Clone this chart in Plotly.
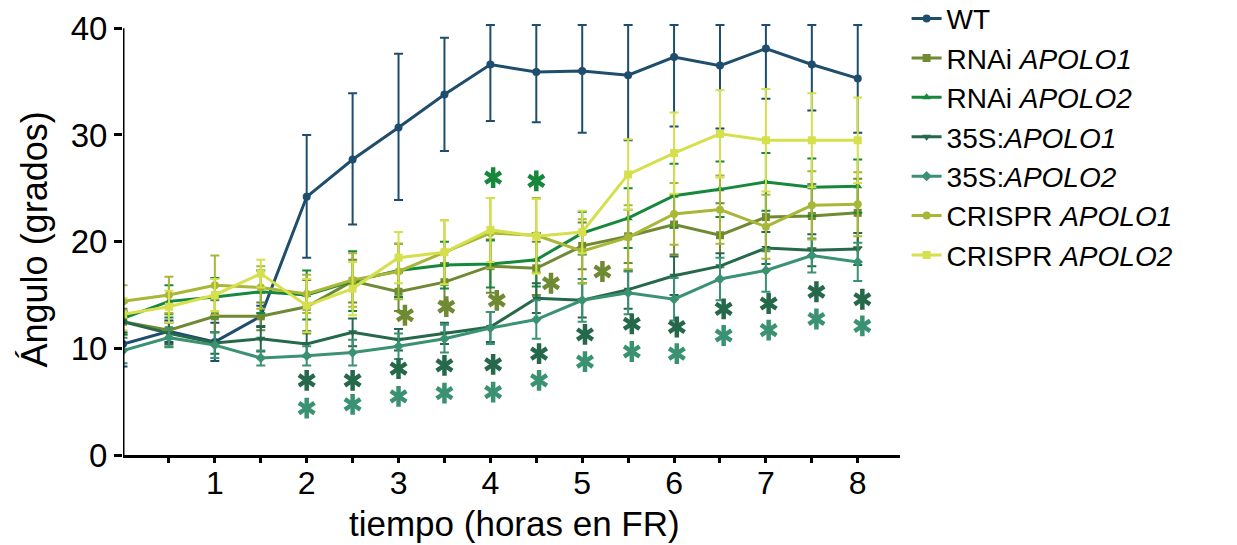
import plotly.graph_objects as go

# ---- data ----
hours = [0, 0.5, 1, 1.5, 2, 2.5, 3, 3.5, 4, 4.5, 5, 5.5, 6, 6.5, 7, 7.5, 8]
x_tickvals = [0.5, 1, 1.5, 2, 2.5, 3, 3.5, 4, 4.5, 5, 5.5, 6, 6.5, 7, 7.5, 8]
x_ticktext = ["", "1", "", "2", "", "3", "", "4", "", "5", "", "6", "", "7", "", "8"]
y_tickvals = [0, 10, 20, 30, 40]

series_names = ["WT", "RNAi <i>APOLO1</i>", "RNAi <i>APOLO2</i>", "35S:<i>APOLO1</i>",
                "35S:<i>APOLO2</i>", "CRISPR <i>APOLO1</i>", "CRISPR <i>APOLO2</i>"]

wt = [10.4, 11.6, 10.6, 13.0, 24.2, 27.7, 30.7, 33.8, 36.6, 35.9, 36.0, 35.6, 37.3, 36.5, 38.1, 36.6, 35.3]
wt_err_plus = [2.1, 1.0, 1.8, 1.0, 5.8, 6.2, 6.9, 5.3, 3.7, 4.4, 4.3, 4.7, 3.0, 3.8, 2.2, 3.7, 5.0]
wt_err_minus = [2.1, 1.0, 1.8, 1.0, 5.7, 6.1, 6.8, 5.3, 5.3, 4.7, 5.8, 6.1, 6.5, 5.9, 4.7, 4.3, 5.1]

rnai1 = [12.5, 11.7, 13.0, 13.0, 13.9, 16.3, 15.3, 16.2, 17.7, 17.5, 19.6, 20.5, 21.6, 20.6, 22.3, 22.4, 22.7]
rnai1_err = [1.2, 1.5, 1.5, 1.3, 2.5, 2.0, 1.8, 1.8, 2.5, 2.5, 2.2, 2.5, 2.8, 3.0, 3.2, 3.0, 3.2]

rnai2 = [12.8, 14.4, 14.8, 15.3, 15.0, 16.3, 17.3, 17.8, 17.9, 18.3, 20.8, 22.2, 24.3, 24.9, 25.6, 25.1, 25.2]
rnai2_err = [1.5, 1.5, 1.8, 2.0, 2.3, 2.8, 2.5, 2.2, 2.2, 2.5, 2.0, 2.8, 3.0, 2.6, 2.7, 2.7, 2.5]

s35_1 = [12.5, 11.4, 10.5, 10.9, 10.4, 11.5, 10.8, 11.4, 12.0, 14.7, 14.5, 15.5, 16.8, 17.7, 19.4, 19.2, 19.3]
s35_1_err = [1.0, 1.0, 1.0, 1.2, 1.2, 1.3, 1.0, 1.0, 1.4, 1.4, 1.6, 1.8, 1.8, 1.2, 1.5, 1.5, 1.5]

s35_2 = [9.8, 11.0, 10.3, 9.1, 9.3, 9.6, 10.2, 10.9, 11.9, 12.7, 14.5, 15.2, 14.6, 16.5, 17.3, 18.7, 18.1]
s35_2_err = [1.2, 0.9, 1.2, 0.7, 0.9, 1.2, 1.2, 1.3, 1.5, 1.8, 2.0, 2.0, 2.0, 2.0, 2.0, 1.6, 1.8]

crispr1 = [14.4, 15.0, 15.9, 15.7, 15.1, 16.4, 17.2, 19.0, 20.8, 20.6, 19.1, 20.4, 22.6, 23.0, 21.4, 23.4, 23.5]
crispr1_err = [1.5, 1.7, 2.8, 2.0, 1.8, 2.5, 2.6, 3.0, 3.3, 3.5, 3.0, 3.0, 2.9, 3.2, 3.0, 3.2, 3.0]

crispr2 = [13.2, 13.9, 15.0, 17.0, 14.0, 15.6, 18.5, 19.0, 21.1, 20.5, 20.9, 26.3, 28.3, 30.1, 29.5, 29.5, 29.5]
crispr2_err = [1.5, 1.5, 1.5, 1.3, 2.5, 2.5, 2.4, 3.0, 3.0, 3.5, 2.0, 3.3, 3.8, 4.1, 4.8, 4.4, 4.0]

# significance asterisks
ast_35s_x = [2.0, 2.5, 3.0, 3.5, 4.03, 4.53, 5.03, 5.54, 6.03, 6.54, 7.03, 7.55, 8.05]
ast_35s1_y = [7.0, 7.0, 8.1, 8.4, 8.5, 9.5, 11.3, 12.3, 12.0, 13.7, 14.2, 15.3, 14.6]
ast_35s2_y = [4.4, 4.75, 5.5, 5.8, 5.9, 7.0, 8.75, 9.7, 9.5, 11.2, 11.7, 12.75, 12.1]
ast_rnai1_x = [3.07, 3.52, 4.07, 4.66, 5.22]
ast_rnai1_y = [13.1, 13.9, 14.5, 16.1, 17.2]
ast_rnai2_x = [4.03, 4.5]
ast_rnai2_y = [26.0, 25.7]

colors = {
    "wt": "#1e4d6e",
    "rnai1": "#6f8a33",
    "rnai2": "#15883c",
    "s35_1": "#26684a",
    "s35_2": "#3a9272",
    "crispr1": "#a8b736",
    "crispr2": "#d5e04c",
}

FONT = "Liberation Sans, Arial, sans-serif"

fig = go.Figure()

def add_series(name, y, color, symbol, err_plus, err_minus=None):
    ey = dict(type="data", array=err_plus, color=color, thickness=2, width=4.5, visible=True)
    if err_minus is not None:
        ey["symmetric"] = False
        ey["arrayminus"] = err_minus
    fig.add_trace(go.Scatter(
        x=hours, y=y, name=name, mode="lines+markers",
        line=dict(color=color, width=3),
        marker=dict(color=color, symbol=symbol, size=8),
        error_y=ey,
    ))

add_series(series_names[0], wt, colors["wt"], "circle", wt_err_plus, wt_err_minus)
add_series(series_names[1], rnai1, colors["rnai1"], "square", rnai1_err)
add_series(series_names[2], rnai2, colors["rnai2"], "triangle-up", rnai2_err)
add_series(series_names[3], s35_1, colors["s35_1"], "triangle-down", s35_1_err)
add_series(series_names[4], s35_2, colors["s35_2"], "diamond", s35_2_err)
add_series(series_names[5], crispr1, colors["crispr1"], "circle", crispr1_err)
add_series(series_names[6], crispr2, colors["crispr2"], "square", crispr2_err)

def add_asterisks(xs, ys, color):
    # six-spoke asterisk = y-up + y-down open symbols overlaid
    for sym in ["y-up-open", "y-down-open"]:
        fig.add_trace(go.Scatter(
            x=xs, y=ys, mode="markers", showlegend=False, hoverinfo="skip",
            marker=dict(symbol=sym, size=13, color=color,
                        line=dict(color=color, width=4.5)),
        ))

add_asterisks(ast_35s_x, ast_35s1_y, colors["s35_1"])
add_asterisks(ast_35s_x, ast_35s2_y, colors["s35_2"])
add_asterisks(ast_rnai1_x, ast_rnai1_y, colors["rnai1"])
add_asterisks(ast_rnai2_x, ast_rnai2_y, colors["rnai2"])

fig.update_layout(
    width=1237, height=545,
    margin=dict(l=123, r=337, t=24, b=90, autoexpand=False),
    paper_bgcolor="white", plot_bgcolor="white",
    font=dict(family=FONT, color="black"),
    showlegend=True,
    legend=dict(
        x=1.0085, xanchor="left", y=1.07, yanchor="top",
        font=dict(size=28, family=FONT, color="black"),
        bgcolor="rgba(0,0,0,0)", tracegroupgap=0, itemwidth=30,
        maxheight=540,
    ),
    xaxis=dict(
        range=[0, 8.46], showgrid=False, zeroline=False,
        showline=True, linecolor="black", linewidth=3,
        tickmode="array", tickvals=x_tickvals, ticktext=x_ticktext,
        ticks="outside", ticklen=5, tickwidth=2.5, tickcolor="black",
        ticklabelstandoff=-7,
        tickfont=dict(size=32, family=FONT, color="black"),
    ),
    yaxis=dict(
        range=[0, 40.4], showgrid=False, zeroline=False,
        showline=False,
        tickmode="array", tickvals=y_tickvals,
        ticks="outside", ticklen=8, tickwidth=2.5, tickcolor="black",
        tickfont=dict(size=33, family=FONT, color="black"),
    ),
    annotations=[
        dict(text="Ángulo (grados)", xref="paper", yref="paper", x=-0.1133, y=0.50,
             xanchor="center", yanchor="middle", textangle=-90, showarrow=False,
             font=dict(size=36, family=FONT, color="black")),
        dict(text="tiempo (horas en FR)", xref="paper", yref="paper", x=0.5045, y=-0.158,
             xanchor="center", yanchor="middle", showarrow=False,
             font=dict(size=35, family=FONT, color="black")),
    ],
)

# y axis line only up to 40
fig.add_shape(type="line", xref="x", yref="y", x0=0, x1=0, y0=0, y1=40,
              line=dict(color="black", width=3), layer="above")

fig.write_html("out.html", config={"displayModeBar": False},
               post_script="document.body.style.margin='0';")
